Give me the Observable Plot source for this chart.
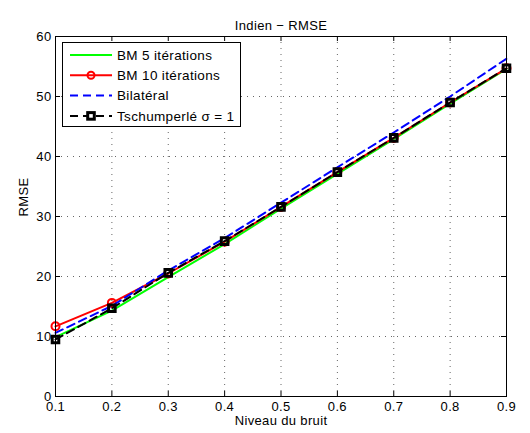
<!DOCTYPE html>
<html>
<head>
<meta charset="utf-8">
<script src="https://cdn.jsdelivr.net/npm/d3@7"></script>
<script src="https://cdn.jsdelivr.net/npm/@observablehq/plot@0.6"></script>
<style>
  html, body { margin: 0; padding: 0; background: #fff; }
  #wrap { position: relative; width: 530px; height: 433px; font-family: "Liberation Sans", Arial, Helvetica, sans-serif; }
  #legend { position: absolute; left: 62px; top: 42px; }
  svg text { letter-spacing: 0.35px; }
</style>
</head>
<body>
<div id="wrap"><div id="chart"></div><div id="legend"></div></div>
<script>
const title = "Indien \u2212 RMSE";
const xLabel = "Niveau du bruit";
const yLabel = "RMSE";
const noise = [0.1, 0.2, 0.3, 0.4, 0.5, 0.6, 0.7, 0.8, 0.9];
const bm5 = [9.9, 14.3, 19.9, 25.4, 31.3, 37.1, 42.9, 48.8, 54.6];
const bm10 = [11.7, 15.6, 20.5, 25.8, 31.6, 37.4, 43.1, 49.0, 54.7];
const bilateral = [10.6, 15.1, 21.0, 26.4, 32.3, 38.2, 44.0, 50.0, 56.3];
const tschumperle = [9.5, 14.7, 20.6, 25.9, 31.6, 37.4, 43.1, 49.0, 54.7];
const seriesNames = ["BM 5 itérations", "BM 10 itérations", "Bilatéral", "Tschumperlé \u03c3 = 1"];
const xTicks = [0.1, 0.2, 0.3, 0.4, 0.5, 0.6, 0.7, 0.8, 0.9];
const yTicks = [0, 10, 20, 30, 40, 50, 60];

const toRows = (vals) => noise.map((x, i) => ({x, y: vals[i]}));
const W = 530, H = 433, mL = 55, mR = 24, mT = 36, mB = 37;
const plotH = H - mT - mB, plotW = W - mL - mR;
const FS = 13;

const chart = Plot.plot({
  width: W, height: H,
  marginLeft: mL, marginRight: mR, marginTop: mT, marginBottom: mB,
  style: {fontFamily: '"Liberation Sans", Arial, Helvetica, sans-serif', fontSize: FS + "px", color: "#000", background: "#fff"},
  x: {domain: [0.1, 0.9]},
  y: {domain: [0, 60]},
  marks: [
    Plot.gridX(xTicks, {stroke: "#666", strokeOpacity: 1, strokeDasharray: "1,5", strokeWidth: 1}),
    Plot.gridY(yTicks, {stroke: "#666", strokeOpacity: 1, strokeDasharray: "1,5", strokeWidth: 1}),
    Plot.axisX(xTicks, {tickSize: 0, tickPadding: 5, tickFormat: d => d.toFixed(1), fontSize: FS, label: null}),
    Plot.axisY(yTicks, {tickSize: 0, tickPadding: 4, fontSize: FS, label: null, dy: 0.5}),
    Plot.tickX(xTicks, {x: d => d, insetTop: plotH - 5, stroke: "#000"}),
    Plot.tickX(xTicks, {x: d => d, insetBottom: plotH - 5, stroke: "#000"}),
    Plot.tickY(yTicks, {y: d => d, insetRight: plotW - 5, stroke: "#000"}),
    Plot.tickY(yTicks, {y: d => d, insetLeft: plotW - 5, stroke: "#000"}),
    Plot.line(toRows(bm5), {x: "x", y: "y", stroke: "#00ff00", strokeWidth: 2}),
    Plot.line(toRows(bm10), {x: "x", y: "y", stroke: "#ff0000", strokeWidth: 2}),
    Plot.dot(toRows(bm10), {x: "x", y: "y", stroke: "#ff0000", fill: "none", r: 4, strokeWidth: 2}),
    Plot.line(toRows(bilateral), {x: "x", y: "y", stroke: "#0000ff", strokeWidth: 2, strokeDasharray: "8,5"}),
    Plot.line(toRows(tschumperle), {x: "x", y: "y", stroke: "#000", strokeWidth: 2, strokeDasharray: "8,5"}),
    Plot.dot(toRows(tschumperle), {x: "x", y: "y", symbol: "square", stroke: "#000", fill: "none", r: 3.7, strokeWidth: 3}),
    Plot.frame({stroke: "#000", strokeWidth: 1}),
    Plot.text([title], {text: d => d, frameAnchor: "top", dy: -16, fontSize: FS}),
    Plot.text([xLabel], {text: d => d, frameAnchor: "bottom", dy: 28, fontSize: FS}),
    Plot.text([yLabel], {text: d => d, frameAnchor: "left", dx: -32, rotate: -90, fontSize: FS})
  ]
});
document.getElementById("chart").appendChild(chart);

// Legend (HTML overlay, positioned like MATLAB's legend box)
const lg = d3.select("#legend").append("svg").attr("width", 179).attr("height", 86)
  .style("font-family", '"Liberation Sans", Arial, Helvetica, sans-serif');
lg.append("rect").attr("x", 0.5).attr("y", 0.5).attr("width", 178).attr("height", 84)
  .attr("fill", "#fff").attr("stroke", "#000");
const styles = [
  {stroke: "#00ff00", dash: null, marker: null},
  {stroke: "#ff0000", dash: null, marker: "circle"},
  {stroke: "#0000ff", dash: "8,5", marker: null},
  {stroke: "#000", dash: "8,5", marker: "square"}
];
seriesNames.forEach((name, i) => {
  const cy = 13 + i * 20.3;
  const g = lg.append("g");
  g.append("line").attr("x1", 8).attr("x2", 50).attr("y1", cy).attr("y2", cy)
    .attr("stroke", styles[i].stroke).attr("stroke-width", 2)
    .attr("stroke-dasharray", styles[i].dash);
  if (styles[i].marker === "circle") {
    g.append("circle").attr("cx", 29).attr("cy", cy).attr("r", 3.5)
      .attr("fill", "none").attr("stroke", styles[i].stroke).attr("stroke-width", 2);
  } else if (styles[i].marker === "square") {
    g.append("rect").attr("x", 25.7).attr("y", cy - 3.3).attr("width", 6.6).attr("height", 6.6)
      .attr("fill", "#fff").attr("stroke", "#000").attr("stroke-width", 3);
  }
  g.append("text").attr("x", 55).attr("y", cy).attr("dy", "0.35em")
    .attr("font-size", 13.5).text(name);
});
</script>
</body>
</html>
